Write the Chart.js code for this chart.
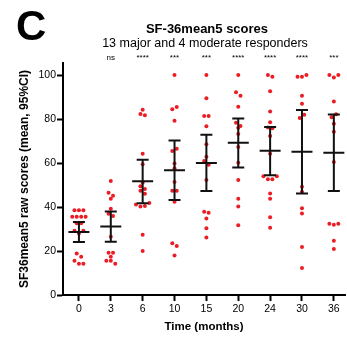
<!DOCTYPE html>
<html><head><meta charset="utf-8">
<script src="https://cdn.jsdelivr.net/npm/chart.js@4/dist/chart.umd.min.js"></script>
<style>
html,body{margin:0;padding:0;background:#fff;}
#wrap{position:relative;width:347px;height:339px;overflow:hidden;background:#fff;}
canvas{position:absolute;left:0;top:0;}
.t{position:absolute;font-family:"Liberation Sans",Arial,sans-serif;color:#000;line-height:1;white-space:nowrap;text-align:center;}
</style></head><body>
<div id="wrap">
<canvas id="c" width="347" height="339"></canvas>
<div class="t" style="left:16px;top:5px;font-size:42px;font-weight:bold;text-align:left">C</div>
<div class="t" style="left:107px;width:200px;top:22px;font-size:13px;font-weight:bold">SF-36mean5 scores</div>
<div class="t" style="left:55px;width:300px;top:37px;font-size:12.5px">13 major and 4 moderate responders</div>
</div>
<script>
const categories = ['0','3','6','10','15','20','24','30','36'];
const yTicks = [0,20,40,60,80,100];
const sigLabels = ['', 'ns', '****', '***', '***', '****', '****', '****', '***'];

const month0  = [38.5,38.5,38.5, 35.6,35.6,35.6,35.6, 32.6,32.6, 29.2,28.0,29.2, 18.9,17.4, 15.6,14.2,14.2];
const month3  = [51.8, 46.5, 45.1, 43.8, 39.2, 37.0, 35.9, 26.5, 19.2,19.2, 17.4, 15.6,15.6, 14.2];
const month6  = [84.2, 82.3,81.7, 64.2, 59.5, 51.2, 49.4, 47.4,48.2, 46.0, 41.2,40.2,40.5,41.8, 27.4, 20.0];
const month10 = [100, 84.5,85.5, 79.2, 65.5,66.5, 59.8, 57.6, 51.4, 47.4,47.4, 42.4, 23.5,22.3, 18.0];
const month15 = [100, 89.5, 81.4,81.4, 76.7, 68.5, 62.9, 60.9,59.2, 52.3, 37.9,37.4, 34.8, 30.3, 26.2];
const month20 = [100, 92.2,90.6, 85.6, 78.3, 76.0,76.8, 73.2, 67.3, 60.1, 52.3, 43.8, 40.2, 31.7];
const month24 = [100,99.2, 92.6, 83.5, 78.6, 76.2,75.8, 72.3, 64.2, 54.0,52.6,52.6,54.0, 46.1, 43.8, 35.3, 30.6];
const month30 = [99.2,99.2,100, 90.6, 87.0, 80.5,82.0, 49.2, 47.0, 39.4, 37.1, 21.8, 12.3];
const month36 = [100,98.9,100, 88.0, 80.8,82.2, 77.9, 74.2, 60.5, 32.4,32.0,32.4, 24.7, 20.9];
const scores = [month0, month3, month6, month10, month15, month20, month24, month30, month36];

const means  = [28.6, 31.1, 51.7, 56.7, 60.0, 69.2, 65.6, 65.1, 64.7];
const ciLow  = [24.1, 24.2, 41.7, 43.2, 47.3, 58.0, 54.4, 46.1, 47.3];
const ciHigh = [33.2, 38.0, 61.5, 70.3, 72.9, 80.3, 76.4, 84.1, 82.1];

const FONT = '"Liberation Sans", Arial, sans-serif';
const STEP = 0.14;      // horizontal spacing of dots sharing a row (category units)
const ROW_TOL = 1.75;   // values closer than this share a row

function jitterOffsets(vals){
  const order = vals.map((v,k)=>k).sort((a,b)=>vals[b]-vals[a] || a-b);
  const offs = new Array(vals.length).fill(0);
  let i = 0;
  while(i < order.length){
    const start = vals[order[i]]; let j = i;
    while(j < order.length && start - vals[order[j]] < ROW_TOL) j++;
    const row = order.slice(i,j).sort((a,b)=>a-b);
    row.forEach((k,n)=>{ offs[k] = (n-(row.length-1)/2)*STEP; });
    i = j;
  }
  return offs;
}

const pts = [];
scores.forEach((vals,i)=>{
  const offs = jitterOffsets(vals);
  vals.forEach((v,k)=>pts.push({x:i+offs[k], y:v}));
});

const errorBars = {
  id:'errorBars',
  afterDatasetsDraw(chart){
    const {ctx, scales:{x,y}} = chart;
    ctx.save();
    ctx.strokeStyle = '#111'; ctx.lineWidth = 2; ctx.lineCap = 'butt';
    means.forEach((m,i)=>{
      const px = x.getPixelForValue(i);
      const yl = y.getPixelForValue(ciLow[i]), yh = y.getPixelForValue(ciHigh[i]), ym = y.getPixelForValue(m);
      ctx.beginPath();
      ctx.moveTo(px, yh); ctx.lineTo(px, yl);
      ctx.moveTo(px-6, yh); ctx.lineTo(px+6, yh);
      ctx.moveTo(px-6, yl); ctx.lineTo(px+6, yl);
      ctx.moveTo(px-10.5, ym); ctx.lineTo(px+10.5, ym);
      ctx.stroke();
    });
    ctx.fillStyle = '#000'; ctx.font = '8px ' + FONT;
    ctx.textAlign = 'center'; ctx.textBaseline = 'middle';
    sigLabels.forEach((s,i)=>{ if(s) ctx.fillText(s, x.getPixelForValue(i), chart.chartArea.top - 5); });
    ctx.restore();
  }
};

const axisCommon = {
  grid:{display:true, drawOnChartArea:false, drawTicks:true, tickLength:6, tickWidth:2, tickColor:'#000'},
  border:{display:true, color:'#000', width:2}
};

new Chart(document.getElementById('c'), {
  type:'scatter',
  data:{datasets:[{data:pts, pointRadius:2, pointHoverRadius:2, pointBackgroundColor:'#ec1c24', pointBorderWidth:0}]},
  options:{
    responsive:false, animation:false, devicePixelRatio:1, events:[],
    layout:{padding:{left:0,right:0,top:63,bottom:0}},
    plugins:{legend:{display:false}, tooltip:{enabled:false}, title:{display:false}},
    scales:{
      x:{type:'linear', min:-0.5, max:8.35, ...axisCommon,
        afterBuildTicks:s=>{ s.ticks = categories.map((c,i)=>({value:i})); },
        afterFit:s=>{ s.height = 44; },
        ticks:{callback:(v)=>categories[v] ?? '', font:{size:10.5, family:FONT}, color:'#000', padding:2, maxRotation:0, autoSkip:false},
        title:{display:true, text:'Time (months)', font:{size:11.5, weight:'bold', family:FONT}, color:'#000', padding:{top:0,bottom:5}}
      },
      y:{min:0, max:105.5, ...axisCommon,
        afterBuildTicks:s=>{ s.ticks = yTicks.map(v=>({value:v})); },
        afterFit:s=>{ s.width = 63; },
        ticks:{font:{size:10.5, family:FONT}, color:'#000', padding:1},
        title:{display:true, text:'SF36mean5 raw scores (mean, 95%CI)', font:{size:12, weight:'bold', family:FONT}, color:'#000', padding:{top:17,bottom:0}}
      }
    }
  },
  plugins:[errorBars]
});
</script>
</body></html>
